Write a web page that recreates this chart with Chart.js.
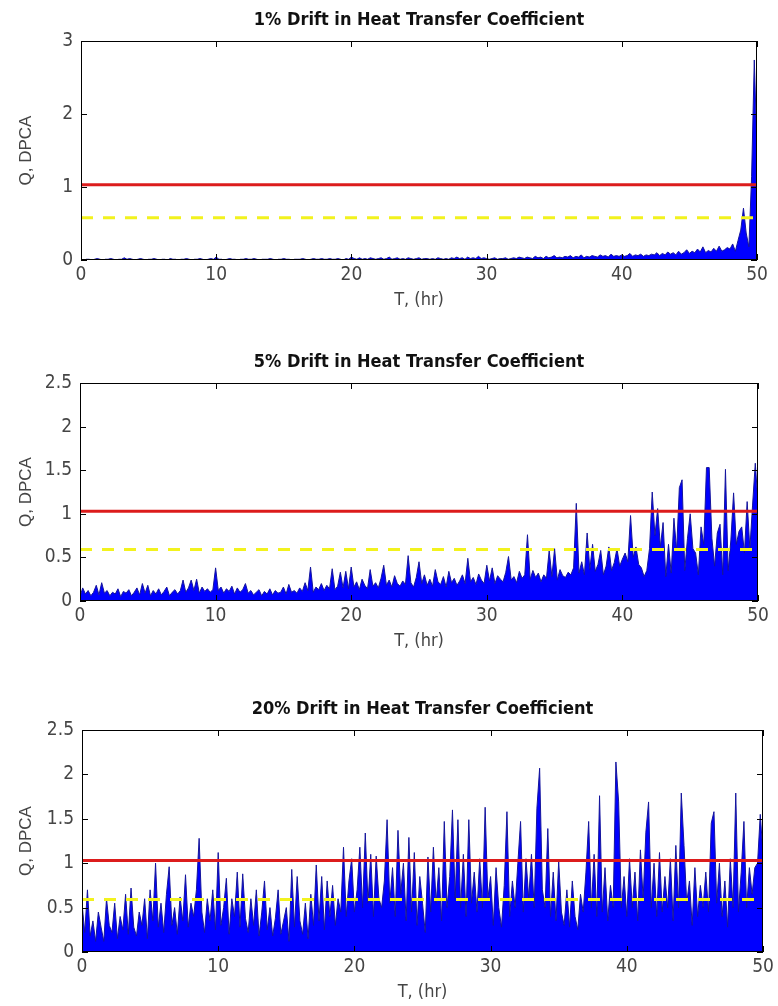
<!DOCTYPE html>
<html lang="en">
<head>
  <meta charset="UTF-8" />
  <title>Drift in Heat Transfer Coefficient</title>
  <script src="https://cdn.jsdelivr.net/npm/chart.js"></script>
  <style>
    body {
      margin: 0;
      background-color: #ffffff;
      width: 778px;
      height: 1006px;
      position: relative;
      overflow: hidden;
    }

    .panel {
      position: absolute;
      left: 0;
      width: 778px;
    }
  </style>
</head>
<body>
  <div class="panel" id="p1"><canvas id="chart1"></canvas></div>
  <div class="panel" id="p2"><canvas id="chart2"></canvas></div>
  <div class="panel" id="p3"><canvas id="chart3"></canvas></div>

  <script>
    // Q statistic (DPCA), sampled every 0.2 hr from 0 to 50 hr
    const dt = 0.2;

    const drift1 = [
      0.01, 0, 0.01, 0.01, 0, 0.01, 0.02, 0.01, 0, 0.01,
      0.01, 0.02, 0.01, 0, 0.01, 0.01, 0.03, 0.01, 0.02, 0.01,
      0, 0.01, 0.02, 0.01, 0, 0.01, 0.01, 0.02, 0.01, 0,
      0.01, 0.01, 0, 0.02, 0.01, 0.01, 0, 0.01, 0.01, 0.02,
      0.01, 0, 0.01, 0.01, 0.02, 0.01, 0, 0.01, 0.02, 0.01,
      0.04, 0.01, 0.01, 0, 0.01, 0.02, 0.01, 0.01, 0, 0.01,
      0.01, 0.02, 0.01, 0.01, 0.02, 0.01, 0, 0.01, 0.01, 0.01,
      0.02, 0.01, 0, 0.01, 0.01, 0.02, 0.01, 0.01, 0, 0.01,
      0.01, 0.01, 0.02, 0.01, 0, 0.01, 0.02, 0.01, 0.01, 0.02,
      0.01, 0.01, 0.02, 0.01, 0.01, 0.02, 0.01, 0, 0.02, 0.01,
      0.04, 0.02, 0.01, 0.03, 0.01, 0.02, 0.01, 0.03, 0.02, 0.01,
      0.02, 0.03, 0.01, 0.02, 0.04, 0.01, 0.02, 0.03, 0.01, 0.02,
      0.01, 0.03, 0.02, 0.01, 0.02, 0.03, 0.01, 0.02, 0.02, 0.01,
      0.02, 0.01, 0.03, 0.02, 0.01, 0.02, 0.01, 0.03, 0.02, 0.04,
      0.02, 0.03, 0.01, 0.04, 0.02, 0.03, 0.02, 0.05, 0.02, 0.03,
      0.02, 0.01, 0.02, 0.03, 0.01, 0.02, 0.02, 0.03, 0.01, 0.02,
      0.03, 0.02, 0.04, 0.03, 0.02, 0.04, 0.03, 0.02, 0.05, 0.03,
      0.04, 0.02, 0.05, 0.03, 0.04, 0.06, 0.03, 0.04, 0.03, 0.05,
      0.04, 0.06, 0.03, 0.05, 0.04, 0.07, 0.03, 0.05, 0.04, 0.06,
      0.05, 0.04, 0.07, 0.05, 0.06, 0.04, 0.08, 0.05, 0.06, 0.05,
      0.07, 0.05, 0.06, 0.09, 0.05, 0.07, 0.06, 0.08, 0.05, 0.07,
      0.06, 0.08, 0.07, 0.1, 0.06, 0.09, 0.07, 0.11, 0.08, 0.1,
      0.07, 0.12, 0.08, 0.1, 0.14, 0.09, 0.12, 0.1, 0.15, 0.11,
      0.18, 0.1, 0.13, 0.11, 0.16, 0.12, 0.19, 0.12, 0.14, 0.17,
      0.15, 0.22, 0.12, 0.27, 0.41, 0.71, 0.37, 0.18, 1.14, 2.74,
      1.5
    ];

    const drift5 = [
      0.05, 0.15, 0.08, 0.12, 0.06, 0.1, 0.18, 0.07, 0.21, 0.09,
      0.12, 0.06, 0.1, 0.08, 0.14, 0.05, 0.11, 0.09, 0.13, 0.06,
      0.1, 0.15, 0.07, 0.2, 0.09, 0.18, 0.06, 0.12, 0.08, 0.14,
      0.07, 0.11, 0.16, 0.06, 0.1, 0.13, 0.08, 0.12, 0.24, 0.1,
      0.15, 0.24, 0.12, 0.25, 0.09, 0.16, 0.11, 0.14, 0.1, 0.13,
      0.38, 0.12, 0.16, 0.09, 0.14, 0.11, 0.17, 0.08, 0.15, 0.1,
      0.13, 0.2, 0.09, 0.12, 0.07, 0.1, 0.13, 0.06, 0.11, 0.08,
      0.14, 0.07, 0.12, 0.09, 0.1, 0.16, 0.08, 0.19, 0.1, 0.12,
      0.09, 0.15, 0.11, 0.21, 0.12, 0.39, 0.1, 0.16, 0.13, 0.2,
      0.12, 0.18, 0.14, 0.37, 0.13, 0.17, 0.33, 0.15, 0.34, 0.14,
      0.39, 0.16, 0.22, 0.13, 0.25, 0.18, 0.14, 0.36, 0.17, 0.21,
      0.15, 0.26, 0.41, 0.18, 0.24, 0.16, 0.29, 0.2, 0.17, 0.23,
      0.19, 0.52, 0.21, 0.16, 0.27, 0.45, 0.2, 0.3, 0.18, 0.25,
      0.17, 0.36, 0.22, 0.19, 0.28, 0.16, 0.34, 0.21, 0.26, 0.18,
      0.23, 0.3, 0.2, 0.49, 0.22, 0.27, 0.19, 0.31, 0.24, 0.2,
      0.41, 0.23, 0.38, 0.2, 0.29, 0.25, 0.22, 0.33, 0.51, 0.24,
      0.28, 0.21, 0.34, 0.26, 0.3, 0.76, 0.25, 0.35, 0.27, 0.32,
      0.22, 0.3, 0.26, 0.58, 0.28, 0.6, 0.24, 0.36, 0.29, 0.27,
      0.33, 0.3, 0.38, 1.12, 0.32, 0.45, 0.3, 0.78, 0.36, 0.65,
      0.34, 0.42, 0.58, 0.3, 0.4, 0.62, 0.35, 0.44, 0.6, 0.4,
      0.48, 0.55, 0.45, 0.98, 0.5, 0.62, 0.42, 0.38, 0.28, 0.35,
      0.6, 1.25, 0.75, 1.06, 0.62, 0.9, 0.28, 0.65, 0.32, 0.95,
      0.58, 1.3, 1.39, 0.35, 0.72, 1.0, 0.6, 0.55, 0.3, 0.85,
      0.65, 1.53, 1.53, 0.72, 0.4, 0.78, 0.88, 0.3, 1.51, 0.35,
      0.7, 1.24, 0.65, 0.8, 0.85, 0.55, 1.14, 0.6, 1.1, 1.58,
      1.12
    ];

    const drift20 = [
      0.55, 0.22, 0.7, 0.18, 0.35, 0.12, 0.45, 0.28, 0.12, 0.6,
      0.3, 0.22, 0.55, 0.15, 0.4, 0.25, 0.65, 0.2, 0.72, 0.28,
      0.18, 0.45, 0.3, 0.6, 0.15, 0.7, 0.35, 1.0, 0.28, 0.55,
      0.22, 0.65, 0.96, 0.3, 0.5, 0.2, 0.62, 0.35, 0.87, 0.28,
      0.55, 0.4, 0.7, 1.28, 0.45, 0.22, 0.6, 0.35, 0.7, 0.25,
      1.12, 0.3, 0.5, 0.83, 0.2, 0.6, 0.4, 0.9, 0.28, 0.88,
      0.38, 0.22, 0.6, 0.3, 0.7, 0.18, 0.45, 0.8, 0.25, 0.5,
      0.18, 0.38, 0.7, 0.2, 0.35, 0.5, 0.12, 0.93, 0.28, 0.85,
      0.35, 0.2, 0.55, 0.15, 0.65, 0.3, 0.98, 0.35, 0.85, 0.25,
      0.8, 0.4, 0.75, 0.3, 0.6, 0.45, 1.18, 0.4, 0.8, 1.05,
      0.45, 0.7, 1.18, 0.5, 1.34, 0.55, 1.1, 0.4, 1.08, 0.6,
      0.5, 0.8, 1.49, 0.55, 0.95, 0.4, 1.37, 0.65, 1.0, 0.35,
      1.29, 0.45, 1.12, 0.3, 0.85, 0.55, 0.22, 1.07, 0.45, 1.18,
      0.55, 0.95, 0.35, 1.47, 0.5, 0.85, 1.6, 0.6, 1.49, 0.5,
      1.1, 0.4, 1.49, 0.55, 0.9, 0.45, 1.05, 0.5, 1.63, 0.6,
      0.85, 0.3, 0.95, 0.5, 0.28, 0.75, 1.58, 0.4, 0.8, 0.5,
      1.0, 1.47, 0.45, 1.05, 0.6, 1.1, 0.5, 1.62, 2.07, 0.7,
      0.5, 1.39, 0.4, 0.9, 0.35, 1.02, 0.45, 0.3, 0.7, 0.28,
      0.8, 0.4, 0.25, 0.65, 0.45, 0.9, 1.47, 0.5, 1.1, 0.4,
      1.76, 0.45, 0.95, 0.35, 0.75, 0.5, 2.14, 1.69, 0.5, 0.85,
      0.4, 1.05, 0.5, 0.9, 0.35, 1.15, 0.6, 1.35, 1.69, 0.5,
      1.0, 0.4, 1.12, 0.45, 0.85, 0.5, 1.05, 0.35, 1.2, 0.5,
      1.79, 1.2, 0.55, 0.8, 0.3, 0.95, 0.4, 0.75, 0.5, 0.9,
      0.45, 1.45, 1.58, 0.55, 1.0, 0.4, 0.8, 0.28, 1.05, 0.5,
      1.79, 0.45, 0.9, 1.47, 0.5, 0.95, 0.65, 0.95, 1.0, 1.55,
      1.1
    ];

    // control limits
    const redLimit = [1.03, 1.03, 1.03];
    const yellowLimit = [0.58, 0.59, 0.59];

    const titles = [
      '1% Drift in Heat Transfer Coefficient',
      '5% Drift in Heat Transfer Coefficient',
      '20% Drift in Heat Transfer Coefficient'
    ];
    const yMax = [3, 2.5, 2.5];
    const yStep = [1, 0.5, 0.5];
    const xTicks = [0, 10, 20, 30, 40, 50];

    const narrow = "'DejaVu Sans Condensed', 'Liberation Sans Narrow', Arial, sans-serif";
    const tickFont = { family: narrow, size: 19 };
    const textGrey = '#454545';

    // box round the axes plus inward tick marks, and the panel title
    const frame = {
      id: 'frame',
      afterDatasetsDraw(chart, args, opts) {
        const { ctx, chartArea: a, scales: { x, y } } = chart;
        ctx.save();
        ctx.strokeStyle = '#000';
        ctx.lineWidth = 1;
        ctx.strokeRect(a.left + 0.5, a.top + 0.5, a.width - 1, a.height - 1);
        ctx.beginPath();
        x.ticks.forEach(t => {
          const px = Math.round(x.getPixelForValue(t.value)) + 0.5;
          ctx.moveTo(px, a.bottom); ctx.lineTo(px, a.bottom - 6);
          ctx.moveTo(px, a.top); ctx.lineTo(px, a.top + 6);
        });
        y.ticks.forEach(t => {
          const py = Math.round(y.getPixelForValue(t.value)) + 0.5;
          ctx.moveTo(a.left, py); ctx.lineTo(a.left + 6, py);
          ctx.moveTo(a.right, py); ctx.lineTo(a.right - 6, py);
        });
        ctx.stroke();
        ctx.fillStyle = '#111';
        ctx.font = 'bold 18px ' + narrow;
        ctx.textAlign = 'center';
        ctx.textBaseline = 'middle';
        ctx.fillText(opts.title, (a.left + a.right) / 2, a.top - 21);
        ctx.restore();
      }
    };

    const panels = [
      { id: 'chart1', box: 'p1', top: 0, height: 314, padTop: 41, left: 81, right: 757, q: drift1 },
      { id: 'chart2', box: 'p2', top: 340, height: 315, padTop: 43, left: 80, right: 758, q: drift5 },
      { id: 'chart3', box: 'p3', top: 686, height: 320, padTop: 44, left: 82, right: 763, q: drift20 }
    ];

    panels.forEach((p, k) => {
      const box = document.getElementById(p.box);
      box.style.top = p.top + 'px';
      box.style.height = p.height + 'px';

      const series = p.q.map((v, i) => ({ x: +(i * dt).toFixed(1), y: v }));
      const limit = v => [{ x: 0, y: v }, { x: 50, y: v }];

      new Chart(document.getElementById(p.id), {
        type: 'line',
        data: {
          datasets: [
            {
              label: 'Upper limit',
              data: limit(redLimit[k]),
              borderColor: '#dc1c1c',
              borderWidth: 3,
              pointRadius: 0,
              order: 1
            },
            {
              label: 'Lower limit',
              data: limit(yellowLimit[k]),
              borderColor: '#f2f21e',
              borderWidth: 3,
              borderDash: [12, 10],
              pointRadius: 0,
              order: 2
            },
            {
              label: 'Q, DPCA',
              data: series,
              borderColor: '#14149c',
              backgroundColor: '#0000ff',
              borderWidth: 1,
              fill: 'origin',
              pointRadius: 0,
              tension: 0,
              order: 3
            }
          ]
        },
        options: {
          responsive: true,
          maintainAspectRatio: false,
          animation: false,
          layout: { padding: { top: p.padTop, bottom: 2, left: 0, right: 778 - p.right } },
          scales: {
            x: {
              type: 'linear',
              min: 0,
              max: 50,
              afterBuildTicks: s => { s.ticks = xTicks.map(v => ({ value: v })); },
              afterFit: s => { s.height = 52; },
              grid: { display: false, drawTicks: false },
              border: { display: false },
              ticks: { color: textGrey, font: tickFont, padding: 4, maxRotation: 0 },
              title: {
                display: true,
                text: 'T, (hr)',
                color: textGrey,
                font: { family: narrow, size: 18 },
                padding: { top: 0, bottom: 1 }
              }
            },
            y: {
              min: 0,
              max: yMax[k],
              afterFit: s => { s.width = p.left; },
              grid: { display: false, drawTicks: false },
              border: { display: false },
              ticks: {
                stepSize: yStep[k],
                color: textGrey,
                font: tickFont,
                padding: 8,
                callback: v => String(v)
              },
              title: {
                display: true,
                text: 'Q, DPCA',
                color: textGrey,
                font: { family: "'Liberation Sans', Arial, sans-serif", size: 17 },
                padding: { top: 16, bottom: 0 }
              }
            }
          },
          plugins: {
            legend: { display: false },
            tooltip: { enabled: false },
            frame: { title: titles[k] }
          }
        },
        plugins: [frame]
      });
    });
  </script>
</body>
</html>
